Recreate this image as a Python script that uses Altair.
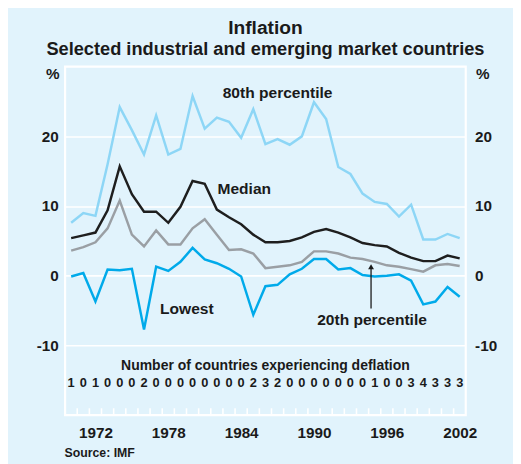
import altair as alt
import pandas as pd

# ---------------- data ----------------
years = list(range(1970, 2003))
p80 = [7.6, 9.0, 8.6, 16.0, 24.2, 20.9, 17.4, 23.0, 17.4, 18.2, 25.8, 21.1, 22.7,
       22.1, 19.8, 23.9, 18.9, 19.6, 18.8, 20.0, 24.9, 22.5, 15.6, 14.6, 11.8, 10.6,
       10.3, 8.5, 10.2, 5.2, 5.2, 6.0, 5.4]
median = [5.4, 5.8, 6.2, 9.4, 15.7, 11.7, 9.2, 9.2, 7.6, 9.9, 13.6, 13.2, 9.5, 8.4,
          7.4, 5.9, 4.8, 4.8, 5.0, 5.5, 6.3, 6.7, 6.2, 5.5, 4.7, 4.4, 4.2, 3.3, 2.6,
          2.1, 2.1, 2.9, 2.5]
p20 = [3.6, 4.1, 4.8, 6.8, 10.8, 5.9, 4.2, 6.5, 4.5, 4.5, 6.8, 8.1, 5.9, 3.7, 3.8,
       3.2, 1.1, 1.3, 1.5, 2.0, 3.5, 3.5, 3.2, 2.6, 2.4, 2.0, 1.5, 1.3, 0.95, 0.6,
       1.5, 1.7, 1.4]
lowest = [-0.1, 0.4, -3.7, 0.9, 0.8, 1.0, -7.7, 1.3, 0.7, 2.0, 4.0, 2.35, 1.8, 1.0,
          -0.1, -5.6, -1.5, -1.3, 0.2, 1.0, 2.4, 2.4, 0.9, 1.1, 0.1, -0.1, 0.0, 0.2,
          -0.7, -4.1, -3.7, -1.6, -3.0]
deflation = [1, 0, 1, 0, 0, 0, 2, 0, 0, 0, 0, 0, 0, 0, 0, 2, 3, 2, 0, 0, 0, 0, 0, 0,
             0, 1, 0, 0, 3, 4, 3, 3, 3]

series_names = ["80th percentile", "20th percentile", "Median", "Lowest"]
series_values = [p80, p20, median, lowest]
series_colors = ["#8DD6F6", "#9A9FA4", "#1E1E1E", "#00AAEA"]

x_label_years = [1972, 1978, 1984, 1990, 1996, 2002]
y_ticks = [-10, 0, 10, 20]

ann_text = ["80th percentile", "Median", "Lowest", "20th percentile"]
ann_x = [1987.0, 1984.26, 1979.53, 1994.78]
ann_y = [25.5, 11.76, -5.44, -7.1]

# ---------------- styling ----------------
BG = "#E1F3FC"
TXT = "#1a1a1a"
FONT = "Liberation Sans"
W, H = 407, 354

long = pd.DataFrame(
    [{"year": y, "value": v, "series": s}
     for s, vals in zip(series_names, series_values)
     for y, v in zip(years, vals)]
)
xs = alt.Scale(domain=[years[0] - 0.5, years[-1] + 0.5], nice=False, zero=False)
ys = alt.Scale(domain=[-20, 30], nice=False, zero=False)

# identical x axis used by every layer, so the shared axis merges cleanly
x_axis = alt.Axis(
    values=x_label_years, format="d", ticks=False, tickSize=0, domain=False,
    grid=False, labelPadding=11, labelFontSize=15.5, labelFont=FONT,
    labelFontWeight="bold", labelColor=TXT, title=None)

def X(field):
    return alt.X(field, scale=xs, axis=x_axis)

lines = alt.Chart(long).mark_line(strokeWidth=2.5).encode(
    x=X("year:Q"),
    y=alt.Y("value:Q", scale=ys, axis=alt.Axis(
        orient="left", values=y_ticks, ticks=False, tickSize=0, domain=False,
        grid=True, gridColor="white", gridWidth=1.6, labelPadding=7,
        labelExpr="'' + datum.value",
        labelFontSize=15.5, labelFont=FONT, labelFontWeight="bold", labelColor=TXT,
        title="%", titleAngle=0, titleAlign="right", titleBaseline="alphabetic",
        titleX=-6, titleY=12.5, titleFontSize=15.5, titleFont=FONT,
        titleFontWeight="bold", titleColor=TXT)),
    color=alt.Color("series:N", scale=alt.Scale(domain=series_names,
                                                range=series_colors), legend=None),
)

tick_df = pd.DataFrame({"tx": [y + 0.5 for y in years[:-1]]})
inner_ticks = alt.Chart(tick_df).mark_rule(color="white", strokeWidth=1.6).encode(
    x=X("tx:Q"),
    y=alt.value(H),
    y2=alt.value(H - 7),
)

ann_df = pd.DataFrame({"tx": ann_x, "ty": ann_y, "label": ann_text})
annotations = alt.Chart(ann_df).mark_text(
    font=FONT, fontWeight="bold", fontSize=15.8, color=TXT, baseline="alphabetic",
    align="center").encode(
    x=X("tx:Q"),
    y=alt.Y("ty:Q", scale=ys, axis=alt.Axis(
        orient="right", values=y_ticks, ticks=False, tickSize=0, domain=False,
        grid=False, labelPadding=9, labelFontSize=15.5, labelFont=FONT,
        labelExpr="'' + datum.value",
        labelFontWeight="bold", labelColor=TXT, labelAlign="left",
        title="%", titleAngle=0, titleAlign="left", titleBaseline="alphabetic",
        titleX=10, titleY=12.5, titleFontSize=15.5, titleFont=FONT,
        titleFontWeight="bold", titleColor=TXT)),
    text="label:N",
)

arrow_df = pd.DataFrame({"ax": [1994.7], "y0": [-4.7], "y1": [1.3]})
arrow_line = alt.Chart(arrow_df).mark_rule(color=TXT, strokeWidth=1.3).encode(
    x=X("ax:Q"),
    y=alt.Y("y0:Q", scale=ys, axis=None),
    y2="y1:Q",
)
arrow_head = alt.Chart(arrow_df).mark_point(
    shape="triangle-up", filled=True, size=35, color=TXT, opacity=1).encode(
    x=X("ax:Q"),
    y=alt.Y("y1:Q", scale=ys, axis=None),
)

defl_df = pd.DataFrame({"year": years, "n": deflation, "row": [-15.95] * len(years)})
defl_text = alt.Chart(defl_df).mark_text(
    font=FONT, fontWeight="bold", fontSize=13, color=TXT, baseline="alphabetic",
    align="center").encode(
    x=X("year:Q"),
    y=alt.Y("row:Q", scale=ys, axis=None),
    text="n:Q",
)

defl_title_df = pd.DataFrame({"tx": [1986.0], "ty": [-13.57],
                              "label": ["Number of countries experiencing deflation"]})
defl_title = alt.Chart(defl_title_df).mark_text(
    font=FONT, fontWeight="bold", fontSize=14.2, color=TXT, baseline="alphabetic",
    align="center").encode(
    x=X("tx:Q"),
    y=alt.Y("ty:Q", scale=ys, axis=None),
    text="label:N",
)

source_df = pd.DataFrame({"tx": [1969.45], "ty": [-26.0], "label": ["Source: IMF"]})
source = alt.Chart(source_df).mark_text(
    font=FONT, fontWeight="bold", fontSize=12.5, color=TXT, baseline="alphabetic",
    align="left").encode(
    x=X("tx:Q"),
    y=alt.Y("ty:Q", scale=ys, axis=None),
    text="label:N",
)

chart = alt.layer(
    lines, inner_ticks, annotations, arrow_line, arrow_head, defl_text,
    defl_title, source,
).resolve_axis(y="independent").properties(
    width=W, height=H,
    title=alt.TitleParams(
        "Inflation",
        subtitle="Selected industrial and emerging market countries",
        anchor="middle", frame="group", font=FONT, fontSize=19.5,
        fontWeight="bold", color=TXT, subtitleFont=FONT, subtitleFontSize=18.5,
        subtitleFontWeight="bold", subtitleColor=TXT, offset=7,
        subtitlePadding=2),
    autosize=alt.AutoSizeParams(type="none"),
    padding={"left": 58, "top": 56, "right": 48, "bottom": 46},
    background=BG,
).configure_view(fill=BG, stroke="white", strokeWidth=2.2)

chart.save("out.html", embed_options={"renderer": "svg", "actions": False})
